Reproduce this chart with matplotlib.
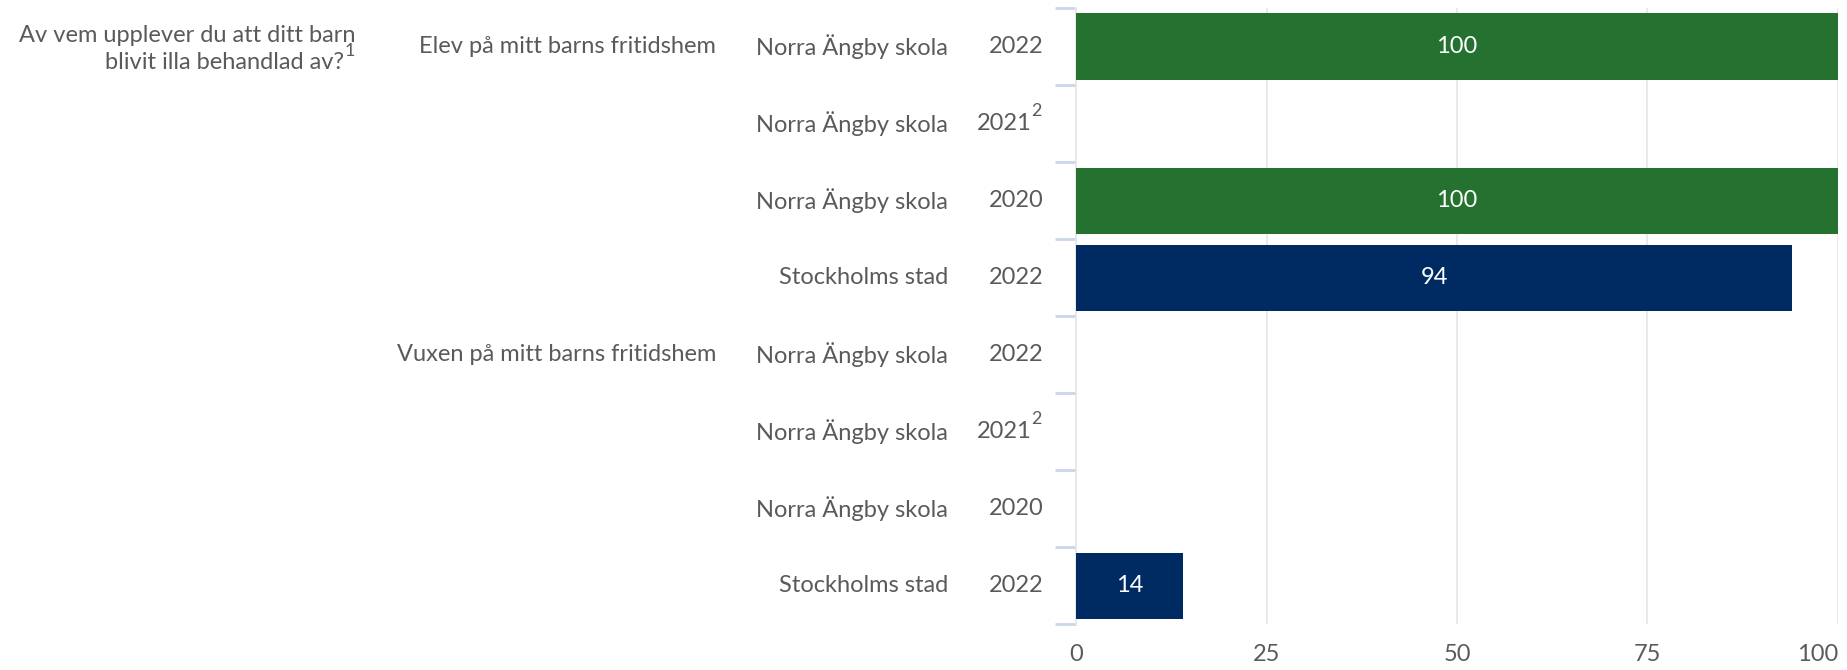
import matplotlib
matplotlib.use("Agg")
import matplotlib.pyplot as plt
from matplotlib import transforms

plt.rcParams['font.family'] = ['Lato', 'DejaVu Sans']

# data
question = ["Av vem upplever du att ditt barn", "blivit illa behandlad av?"]
groups = ["Elev på mitt barns fritidshem", "Vuxen på mitt barns fritidshem"]
units = ["Norra Ängby skola", "Norra Ängby skola", "Norra Ängby skola", "Stockholms stad"]
years = ["2022", "2021", "2020", "2022"]
year_notes = ["", "2", "", ""]
values = [[100, None, 100, 94], [None, None, None, 14]]
xticks = [0, 25, 50, 75, 100]

green = "#257230"
navy = "#002b62"
grey = "#5a5a5a"

fig = plt.figure(figsize=(18.47, 6.70), dpi=100)
ax = fig.add_axes([0.5826, 0.068, 0.9951 - 0.5826, 0.988 - 0.068])

rows = []
for g, grp in enumerate(values):
    for k, v in enumerate(grp):
        rows.append((g, k, v))

n = len(rows)
fs = 17
for i, (g, k, v) in enumerate(rows):
    if v is None:
        continue
    col = navy if units[k] == "Stockholms stad" else green
    ax.barh(i, v, height=0.86, color=col, zorder=3)
    ax.text(v / 2, i, str(v), color="white", ha="center", va="center", fontsize=fs, zorder=4)

ax.set_xlim(0, 100)
ax.set_ylim(n - 0.5, -0.5)
ax.set_xticks(xticks)
ax.set_xticklabels([str(t) for t in xticks])
ax.tick_params(axis="x", length=0, pad=14, labelsize=fs, labelcolor=grey)
ax.get_xticklabels()[-1].set_horizontalalignment("right")
ax.set_yticks(range(n))
ax.set_yticklabels([])
ax.tick_params(axis="y", which="major", length=0)
ax.set_yticks([i - 0.5 for i in range(n + 1)], minor=True)
ax.tick_params(axis="y", which="minor", length=15, width=2, color="#ccd6eb", direction="out")
ax.grid(axis="x", color="#e6e6e6", linewidth=1.2, zorder=0)
for s in ["top", "right", "bottom"]:
    ax.spines[s].set_visible(False)
ax.spines["left"].set_color("#e6e6e6")
ax.spines["left"].set_linewidth(1.2)

# category labels on the left, in figure-x / data-y coordinates
tr = transforms.blended_transform_factory(fig.transFigure, ax.transData)
for i, (g, k, v) in enumerate(rows):
    if year_notes[k]:
        ax.text(0.5584, i, years[k], transform=tr, ha="right", va="center", fontsize=fs, color=grey)
        ax.text(0.5584, i - 0.17, year_notes[k], transform=tr, ha="left", va="center", fontsize=13, color=grey)
    else:
        ax.text(0.5652, i, years[k], transform=tr, ha="right", va="center", fontsize=fs, color=grey)
    ax.text(0.5133, i, units[k], transform=tr, ha="right", va="center", fontsize=fs, color=grey)
    if k == 0:
        ax.text(0.3877, i, groups[g], transform=tr, ha="right", va="center", fontsize=fs, color=grey)

ax.text(0.1927, -0.14, question[0], transform=tr, ha="right", va="center", fontsize=fs, color=grey)
ax.text(0.1863, 0.21, question[1], transform=tr, ha="right", va="center", fontsize=fs, color=grey)
ax.text(0.1866, 0.06, "1", transform=tr, ha="left", va="center", fontsize=13, color=grey)

fig.savefig("out.png", dpi=100)
